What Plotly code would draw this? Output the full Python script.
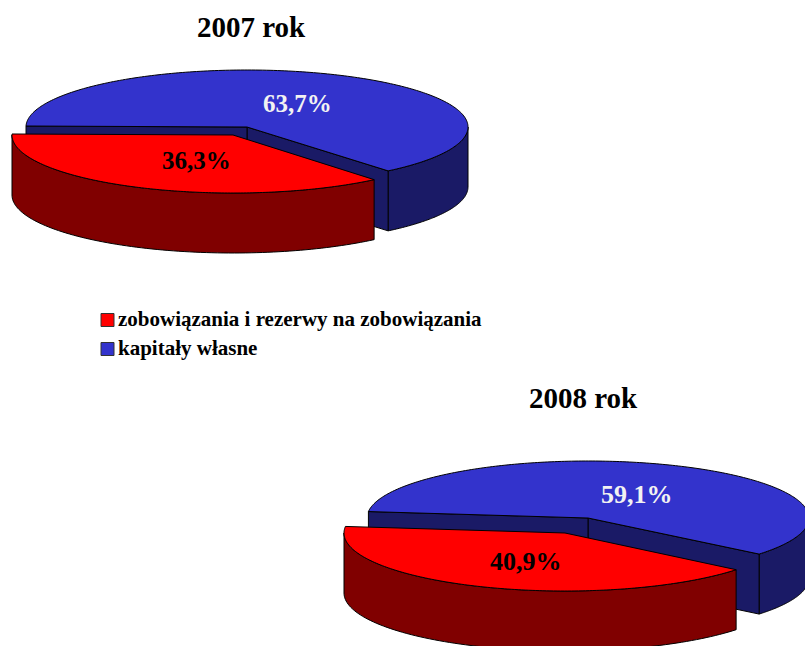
import numpy as np
import plotly.graph_objects as go

# ---- data ----
years = ["2007 rok", "2008 rok"]
series_names = ["zobowiązania i rezerwy na zobowiązania", "kapitały własne"]
liabilities = [36.3, 40.9]
equity = [63.7, 59.1]
value_labels_liabilities = ["36,3%", "40,9%"]
value_labels_equity = ["63,7%", "59,1%"]

# ---- layout of the two drawn pies (pixels on an 805x646 canvas) ----
W, H = 805, 646
RX = 221
RY_BLUE, RY_RED = 57, 58
DEPTH = 60
blue_centres = [(247, 127), (588, 518)]
red_centres = [(233, 135), (565, 533)]
left_angles = [181, 186.5]
title_pos = [(251.5, 27), (583, 398)]
red_label_pos = [(196.5, 160), (525.5, 561)]
blue_label_pos = [(297, 103), (636.5, 494)]
label_sizes = [25, 26]

RED, DARK_RED = "#FF0000", "#800000"
BLUE, DARK_BLUE = "#3333CC", "#1A1A66"
FONT = "Liberation Serif"

fig = go.Figure()


def arc(c, ry, a0, a1, dy=0, n=90):
    t = np.radians(np.linspace(a0, a1, n))
    return c[0] + RX * np.cos(t), c[1] + dy + ry * np.sin(t)


def poly(xs, ys, color, name):
    fig.add_trace(go.Scatter(
        x=np.r_[xs, xs[0]], y=np.r_[ys, ys[0]], mode="lines", fill="toself",
        fillcolor=color, line=dict(color="#000000", width=1, simplify=False),
        hoverinfo="skip", showlegend=False, name=name))


for i in range(len(years)):
    bc, rc, left = blue_centres[i], red_centres[i], left_angles[i]
    split = left - liabilities[i] / (liabilities[i] + equity[i]) * 360

    # blue slice: outer rim
    x1, y1 = arc(bc, RY_BLUE, split, 0)
    x2, y2 = arc(bc, RY_BLUE, 0, split, DEPTH)
    poly(np.r_[x1, x2], np.r_[y1, y2], DARK_BLUE, "rim")
    # blue slice: cut walls
    for a in (split, left):
        ex, ey = arc(bc, RY_BLUE, a, a, n=1)
        poly(np.r_[bc[0], ex, ex, bc[0]],
             np.r_[bc[1], ey, ey + DEPTH, bc[1] + DEPTH], DARK_BLUE, "wall")
    # blue slice: top
    x3, y3 = arc(bc, RY_BLUE, split, left - 360, n=240)
    poly(np.r_[bc[0], x3], np.r_[bc[1], y3], BLUE, series_names[1])

    # red slice: outer rim
    x4, y4 = arc(rc, RY_RED, split, 180)
    x5, y5 = arc(rc, RY_RED, 180, split, DEPTH)
    poly(np.r_[x4, x5], np.r_[y4, y5], DARK_RED, "rim")
    # red slice: top
    x6, y6 = arc(rc, RY_RED, split, left, n=160)
    poly(np.r_[rc[0], x6], np.r_[rc[1], y6], RED, series_names[0])

    fig.add_annotation(x=title_pos[i][0], y=title_pos[i][1], text=f"<b>{years[i]}</b>",
                       showarrow=False, font=dict(family=FONT, size=29, color="#000000"))
    fig.add_annotation(x=red_label_pos[i][0], y=red_label_pos[i][1],
                       text=f"<b>{value_labels_liabilities[i]}</b>",
                       showarrow=False, font=dict(family=FONT, size=label_sizes[i], color="#000000"))
    fig.add_annotation(x=blue_label_pos[i][0], y=blue_label_pos[i][1],
                       text=f"<b>{value_labels_equity[i]}</b>",
                       showarrow=False, font=dict(family=FONT, size=label_sizes[i], color="#F2F2F2"))

# legend
legend_y = [320, 349]
legend_colors = [RED, BLUE]
for name, y, col in zip(series_names, legend_y, legend_colors):
    fig.add_trace(go.Scatter(x=[107.5], y=[y], mode="markers", hoverinfo="skip", showlegend=False,
                             marker=dict(symbol="square", size=13, color=col,
                                         line=dict(color="#333333", width=1))))
    fig.add_annotation(x=116, y=y - 1, text=f"<b>{name}</b>", xanchor="left", showarrow=False,
                       font=dict(family=FONT, size=21, color="#000000"))

fig.update_layout(
    width=W, height=H, margin=dict(l=0, r=0, t=0, b=0),
    paper_bgcolor="#FFFFFF", plot_bgcolor="#FFFFFF", showlegend=False,
    xaxis=dict(range=[0, W], visible=False, fixedrange=True),
    yaxis=dict(range=[H, 0], visible=False, fixedrange=True),
)
fig.write_html("out.html", post_script="document.body.style.margin='0';document.body.style.overflow='hidden';",
               config={"displayModeBar": False})
